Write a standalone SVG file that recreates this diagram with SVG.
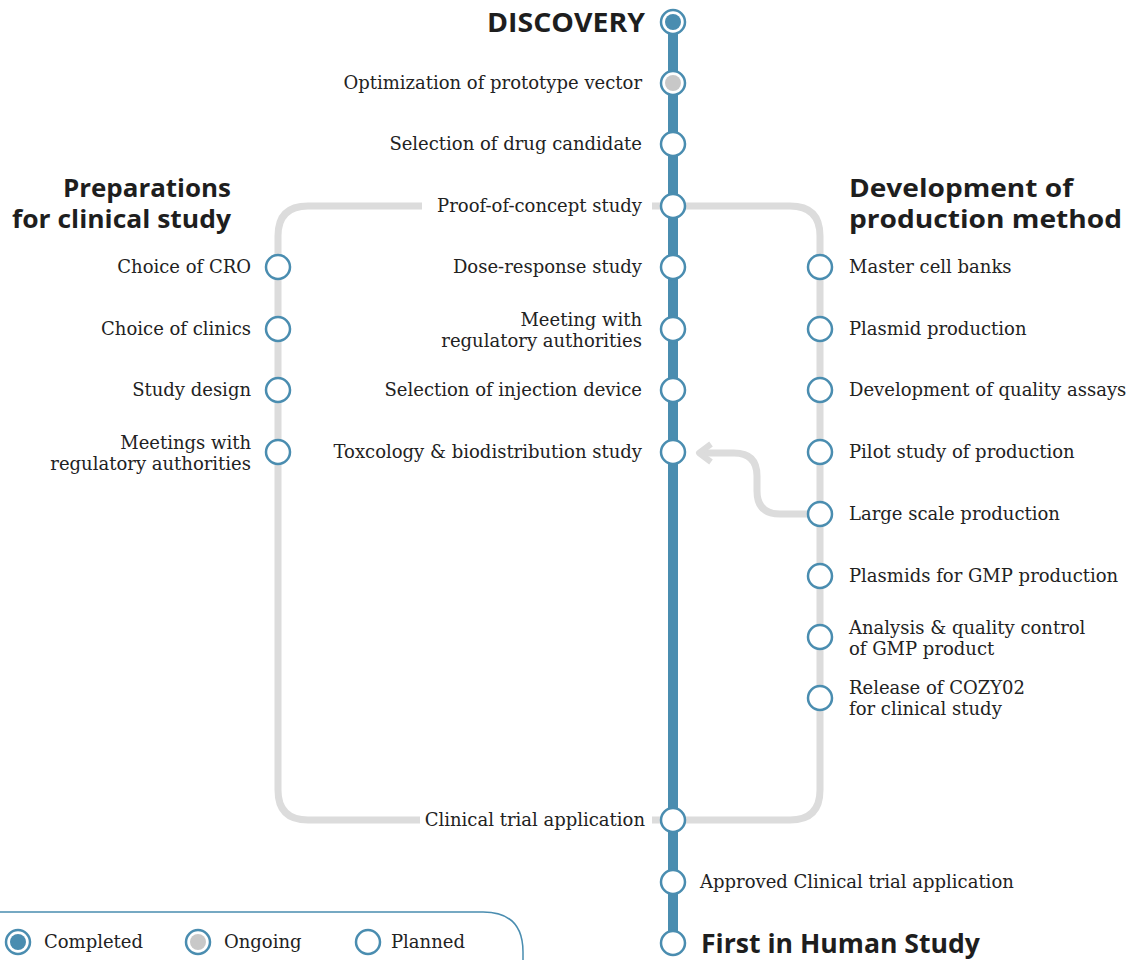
<svg xmlns="http://www.w3.org/2000/svg" width="1126" height="960" viewBox="0 0 1126 960">
<style>
.t{font-family:"DejaVu Serif","Liberation Serif",serif;font-size:18px;fill:#222}
.r{text-anchor:end}
.h{font-family:"Open Sans","Noto Sans",sans-serif;font-weight:700;font-size:27px;fill:#1e1e1e}
.h2{font-size:25px}
.n{fill:#fff;stroke:#4a8db0;stroke-width:2.5}
.g{fill:none;stroke:#dcdcdc;stroke-width:7}
</style>
<g id="connectors">
<path class="g" d="M422 206 H308 Q278 206 278 236 V790 Q278 820 308 820 H420"/>
<path class="g" d="M652 206 H790 Q820 206 820 236 V790 Q820 820 790 820 H652"/>
<path class="g" d="M808 514 H780 Q757 514 757 491 V476 Q757 453 734 453 H700"/>
<path d="M711 444 L699 453 L711 462" fill="none" stroke="#dcdcdc" stroke-width="6" stroke-linejoin="round"/>
<line x1="673" y1="22" x2="673" y2="943" stroke="#4a8db0" stroke-width="10"/>
</g>
<g id="discovery"><circle class="n" cx="673" cy="22" r="12"/><circle cx="673" cy="22" r="8" fill="#4a8db0"/><text class="h r" x="645" y="32" textLength="158" lengthAdjust="spacingAndGlyphs">DISCOVERY</text></g>
<g id="n1"><circle class="n" cx="673" cy="83" r="12"/><circle cx="673" cy="83" r="8" fill="#c8c8c8"/><text class="t r" x="642" y="89">Optimization of prototype vector</text></g>
<g id="n2"><circle class="n" cx="673" cy="144" r="12"/><text class="t r" x="642" y="150">Selection of drug candidate</text></g>
<g id="n3"><circle class="n" cx="673" cy="206" r="12"/><text class="t r" x="642" y="212">Proof-of-concept study</text></g>
<g id="n4"><circle class="n" cx="673" cy="267" r="12"/><text class="t r" x="642" y="273">Dose-response study</text></g>
<g id="n5"><circle class="n" cx="673" cy="329" r="12"/><text class="t r" x="642" y="326">Meeting with</text><text class="t r" x="642" y="347">regulatory authorities</text></g>
<g id="n6"><circle class="n" cx="673" cy="390" r="12"/><text class="t r" x="642" y="396">Selection of injection device</text></g>
<g id="n7"><circle class="n" cx="673" cy="452" r="12"/><text class="t r" x="642" y="458">Toxcology &amp; biodistribution study</text></g>
<g id="n8"><circle class="n" cx="673" cy="820" r="12"/><text class="t r" x="645" y="826">Clinical trial application</text></g>
<g id="n9"><circle class="n" cx="673" cy="882" r="12"/><text class="t" x="700" y="888">Approved Clinical trial application</text></g>
<g id="n10"><circle class="n" cx="673" cy="943" r="12"/><text class="h" x="701" y="953" textLength="279" lengthAdjust="spacingAndGlyphs">First in Human Study</text></g>
<g id="prep"><text class="h h2 r" x="231" y="197" textLength="168" lengthAdjust="spacingAndGlyphs">Preparations</text><text class="h h2 r" x="231" y="228" textLength="219" lengthAdjust="spacingAndGlyphs">for clinical study</text></g>
<g id="l1"><circle class="n" cx="278" cy="267" r="12"/><text class="t r" x="251" y="273">Choice of CRO</text></g>
<g id="l2"><circle class="n" cx="278" cy="329" r="12"/><text class="t r" x="251" y="335">Choice of clinics</text></g>
<g id="l3"><circle class="n" cx="278" cy="390" r="12"/><text class="t r" x="251" y="396">Study design</text></g>
<g id="l4"><circle class="n" cx="278" cy="452" r="12"/><text class="t r" x="251" y="449">Meetings with</text><text class="t r" x="251" y="470">regulatory authorities</text></g>
<g id="dev"><text class="h h2" x="849" y="197" textLength="224" lengthAdjust="spacingAndGlyphs">Development of</text><text class="h h2" x="849" y="228" textLength="273" lengthAdjust="spacingAndGlyphs">production method</text></g>
<g id="r1"><circle class="n" cx="820" cy="267" r="12"/><text class="t" x="849" y="273">Master cell banks</text></g>
<g id="r2"><circle class="n" cx="820" cy="329" r="12"/><text class="t" x="849" y="335">Plasmid production</text></g>
<g id="r3"><circle class="n" cx="820" cy="390" r="12"/><text class="t" x="849" y="396">Development of quality assays</text></g>
<g id="r4"><circle class="n" cx="820" cy="452" r="12"/><text class="t" x="849" y="458">Pilot study of production</text></g>
<g id="r5"><circle class="n" cx="820" cy="514" r="12"/><text class="t" x="849" y="520">Large scale production</text></g>
<g id="r6"><circle class="n" cx="820" cy="576" r="12"/><text class="t" x="849" y="582">Plasmids for GMP production</text></g>
<g id="r7"><circle class="n" cx="820" cy="637" r="12"/><text class="t" x="849" y="634">Analysis &amp; quality control</text><text class="t" x="849" y="655">of GMP product</text></g>
<g id="r8"><circle class="n" cx="820" cy="698" r="12"/><text class="t" x="849" y="694">Release of COZY02</text><text class="t" x="849" y="715">for clinical study</text></g>
<g id="legend">
<path d="M-10 912 H483 Q523 912 523 952 V970" fill="none" stroke="#4a8db0" stroke-width="1.5"/>
<circle class="n" cx="18" cy="942" r="12"/><circle cx="18" cy="942" r="8" fill="#4a8db0"/><text class="t" x="44" y="948">Completed</text>
<circle class="n" cx="198" cy="942" r="12"/><circle cx="198" cy="942" r="8" fill="#c8c8c8"/><text class="t" x="224" y="948">Ongoing</text>
<circle class="n" cx="368" cy="942" r="12"/><text class="t" x="391" y="948">Planned</text>
</g>
</svg>
